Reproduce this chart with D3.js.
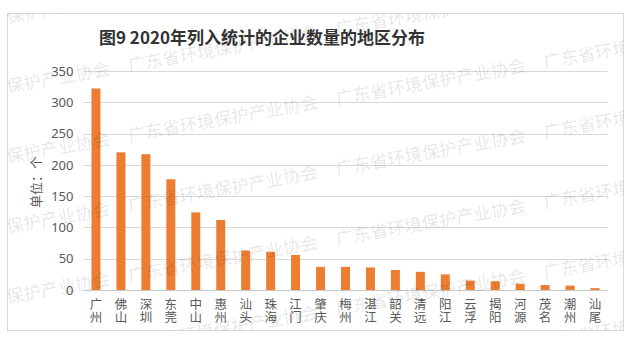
<!DOCTYPE html>
<html>
<head>
<meta charset="utf-8">
<script src="https://cdn.jsdelivr.net/npm/d3@7"></script>
<style>
  html, body { margin: 0; padding: 0; background: #fff; }
  svg { display: block; }
  text { font-family: "Noto Sans CJK SC", "Noto Sans", sans-serif; }
</style>
</head>
<body>
<div id="chart"></div>
<script>
// Regions and the number of enterprises counted in each (2020)
const categories = ["广州", "佛山", "深圳", "东莞", "中山", "惠州", "汕头", "珠海", "江门", "肇庆",
                    "梅州", "湛江", "韶关", "清远", "阳江", "云浮", "揭阳", "河源", "茂名", "潮州", "汕尾"];
const counts = [322, 220, 217, 177, 124, 112, 63, 61, 56, 37, 37, 36, 32, 29, 25, 15, 14, 10, 8, 7, 3];
const yTicks = [0, 50, 100, 150, 200, 250, 300, 350];
const titleText = "图9 2020年列入统计的企业数量的地区分布";
const yTitle = "单位：个";
const watermark = "广东省环境保护产业协会";

const W = 630, H = 341;
const frame = { x: 7.5, y: 13.5, w: 616, h: 317 };
const plot = { left: 83.5, right: 607.5, top: 71, bottom: 290 };

const svg = d3.select("#chart").append("svg")
  .attr("width", W).attr("height", H);

svg.append("rect").attr("width", W).attr("height", H).attr("fill", "#fff");

// Chart frame
svg.append("rect")
  .attr("x", frame.x).attr("y", frame.y)
  .attr("width", frame.w).attr("height", frame.h)
  .attr("fill", "#fff").attr("stroke", "#d9d9d9").attr("stroke-width", 1);

const x = d3.scaleBand()
  .domain(categories)
  .range([plot.left, plot.right])
  .paddingInner(0.64)
  .paddingOuter(0.32);

const y = d3.scaleLinear()
  .domain([0, 350])
  .range([plot.bottom, plot.top]);

// Horizontal gridlines
svg.append("g")
  .selectAll("line")
  .data(yTicks)
  .join("line")
  .attr("x1", plot.left).attr("x2", plot.right)
  .attr("y1", d => Math.round(y(d)) + 0.5).attr("y2", d => Math.round(y(d)) + 0.5)
  .attr("stroke", d => d === 0 ? "#c8c8c8" : "#d9d9d9")
  .attr("stroke-width", 1);

// Y axis labels
const yAxis = d3.axisLeft(y).tickValues(yTicks).tickSize(0).tickPadding(10);
const yg = svg.append("g")
  .attr("transform", `translate(${plot.left},0)`)
  .call(yAxis);
yg.select(".domain").remove();
yg.selectAll("text")
  .attr("fill", "#595959")
  .style("font-size", "13px")
  .style("font-family", "'Noto Sans', 'Noto Sans CJK SC', sans-serif");

// Bars
svg.append("g")
  .selectAll("rect")
  .data(categories.map((c, i) => ({ c, v: counts[i] })))
  .join("rect")
  .attr("x", d => x(d.c))
  .attr("y", d => y(d.v))
  .attr("width", x.bandwidth())
  .attr("height", d => y(0) - y(d.v))
  .attr("fill", "#ed7d31");

// Category labels, characters stacked vertically
const catG = svg.append("g")
  .selectAll("g")
  .data(categories)
  .join("g")
  .attr("transform", d => `translate(${x(d) + x.bandwidth() / 2},0)`);
catG.selectAll("text")
  .data(d => Array.from(d))
  .join("text")
  .attr("x", 0)
  .attr("y", (ch, i) => 309 + i * 12.8)
  .attr("text-anchor", "middle")
  .attr("fill", "#595959")
  .style("font-size", "12.5px")
  .text(ch => ch);

// Y axis title
svg.append("text")
  .attr("transform", "translate(41,182) rotate(-90)")
  .attr("text-anchor", "middle")
  .attr("fill", "#595959")
  .style("font-size", "13px")
  .text(yTitle);

// Title
svg.append("text")
  .attr("x", 262).attr("y", 44)
  .attr("text-anchor", "middle")
  .attr("fill", "#333")
  .style("font-size", "17px")
  .style("font-weight", "700")
  .text(titleText);

// Watermark rows, clipped to the frame
svg.append("clipPath").attr("id", "frameClip")
  .append("rect")
  .attr("x", frame.x).attr("y", frame.y)
  .attr("width", frame.w).attr("height", frame.h);

const wm = svg.append("g")
  .attr("clip-path", "url(#frameClip)")
  .append("g")
  .attr("transform", "rotate(-10,337,105)");

const rad = -10 * Math.PI / 180;
const toScreen = (lx, ly) => [
  337 + (lx - 337) * Math.cos(rad) - (ly - 105) * Math.sin(rad),
  105 + (lx - 337) * Math.sin(rad) + (ly - 105) * Math.cos(rad)
];
const rows = d3.range(-3, 6);
const cols = d3.range(-3, 4);
rows.forEach(k => {
  cols.forEach(n => {
    const lx = 337 - 12.2 * k + n * 211, ly = 105 + 69 * k;
    // keep only phrases that reach into the frame
    const a = toScreen(lx, ly), b = toScreen(lx + 195, ly);
    const minX = Math.min(a[0], b[0]), maxX = Math.max(a[0], b[0]);
    const minY = Math.min(a[1], b[1]) - 16, maxY = Math.max(a[1], b[1]);
    if (maxX < frame.x || minX > frame.x + frame.w || maxY < frame.y || minY > frame.y + frame.h) return;
    wm.append("text")
      .attr("x", lx)
      .attr("y", ly)
      .attr("fill", "#000")
      .attr("fill-opacity", 0.11)
      .style("font-size", "17.5px")
      .text(watermark);
  });
});
</script>
</body>
</html>
